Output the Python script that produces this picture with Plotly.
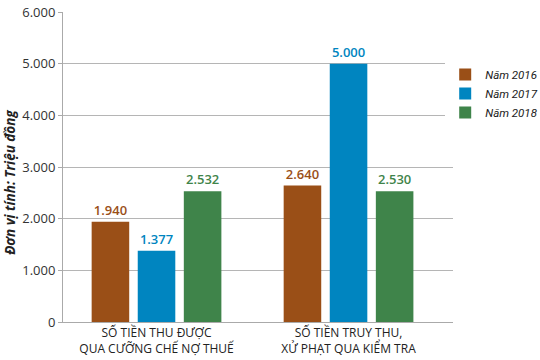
import plotly.graph_objects as go

categories = ["SỐ TIỀN THU ĐƯỢC<br>QUA CƯỠNG CHẾ NỢ THUẾ", "SỐ TIỀN TRUY THU,<br>XỬ PHẠT QUA KIỂM TRA"]
series_names = ["Năm 2016", "Năm 2017", "Năm 2018"]
values_2016 = [1940, 2640]
values_2017 = [1377, 5000]
values_2018 = [2532, 2530]
labels_2016 = ["1.940", "2.640"]
labels_2017 = ["1.377", "5.000"]
labels_2018 = ["2.532", "2.530"]
y_ticks = [0, 1000, 2000, 3000, 4000, 5000, 6000]
y_title = "Đơn vị tính: Triệu đồng"

colors = ["#9A4F17", "#0085C0", "#3F844A"]
FONT = "Open Sans"

fig = go.Figure()
for name, vals, labs, col in zip(series_names, [values_2016, values_2017, values_2018],
                                 [labels_2016, labels_2017, labels_2018], colors):
    fig.add_trace(go.Bar(
        x=[0, 1], y=vals, name=name, marker_color=col, marker_line_width=0,
        text=labs, textposition="outside", cliponaxis=False,
        textfont=dict(family=FONT, size=13, color=col, weight=600),
    ))

fig.add_annotation(
    text=y_title, textangle=-90, xref="paper", yref="paper",
    x=-0.136, y=0.452, xanchor="center", yanchor="middle", showarrow=False,
    font=dict(family=FONT, size=13.5, color="#222222", style="italic", weight="bold"),
)

fig.update_layout(
    width=540, height=360,
    margin=dict(l=63, r=87, t=12, b=38, autoexpand=False),
    paper_bgcolor="white", plot_bgcolor="white",
    barmode="group", bargap=0.28, bargroupgap=0.185,
    separators=",.",
    font=dict(family=FONT, size=12, color="#333333"),
    showlegend=True,
    legend=dict(x=0.98, y=0.845, xanchor="left", yanchor="top",
                font=dict(family="Roboto", size=11.5, color="#222222", style="italic"),
                itemsizing="constant", itemwidth=30),
    xaxis=dict(
        tickmode="array", tickvals=[0, 1], ticktext=categories,
        range=[-0.487, 1.544], showgrid=False, showline=True,
        linecolor="#AAAAAA", linewidth=1, ticks="", zeroline=False,
        automargin=False,
        tickfont=dict(family=FONT, size=12, color="#222222"),
    ),
    yaxis=dict(
        range=[0, 6000], tickvals=y_ticks, tickformat=",d",
        showgrid=True, gridcolor="#B5B5B5", gridwidth=1,
        showline=True, linecolor="#AAAAAA", linewidth=1,
        ticks="outside", ticklen=4, tickcolor="#AAAAAA",
        zeroline=False, automargin=False,
        tickfont=dict(family=FONT, size=13, color="#333333"),
    ),
)

fig.write_html("out.html", config={"displayModeBar": False},
               post_script="document.body.style.margin='0';")
